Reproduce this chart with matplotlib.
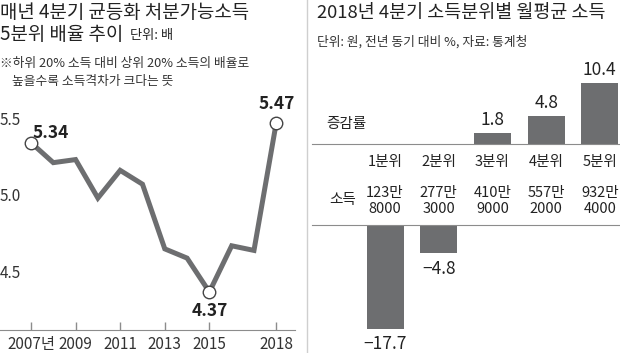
import matplotlib
matplotlib.use('Agg')
import matplotlib.pyplot as plt
from matplotlib.lines import Line2D
from matplotlib.transforms import blended_transform_factory

plt.rcParams['font.family'] = ['Noto Sans CJK KR', 'DejaVu Sans']
plt.rcParams['axes.unicode_minus'] = True
NUM = ['Liberation Sans Narrow', 'Noto Sans CJK KR']

# 왼쪽: 4분기 5분위 배율
years = [2007, 2008, 2009, 2010, 2011, 2012, 2013, 2014, 2015, 2016, 2017, 2018]
ratio = [5.34, 5.21, 5.23, 4.98, 5.16, 5.07, 4.65, 4.59, 4.37, 4.67, 4.64, 5.47]
mark_years = [2007, 2015, 2018]
tick_years = [2007, 2009, 2011, 2013, 2015, 2018]
tick_labels = ['2007년', '2009', '2011', '2013', '2015', '2018']
y_ticks = [4.5, 5.0, 5.5]

# 오른쪽: 소득분위별 증감률
quintiles = ['1분위', '2분위', '3분위', '4분위', '5분위']
change = [-17.7, -4.8, 1.8, 4.8, 10.4]
income = [1238000, 2773000, 4109000, 5572000, 9324000]

GRAY = '#6d6e70'
TXT = '#222222'
LINEC = '#8c8c8c'

fig = plt.figure(figsize=(6.2, 3.53), dpi=100)
W, H = 620, 353

def fx(px):
    return px / W

def fy(py):
    return 1 - py / H

# ---- 왼쪽 패널 ----
fig.text(0, fy(13), '매년 4분기 균등화 처분가능소득', fontsize=13.6, color=TXT, va='center')
fig.text(0, fy(35), '5분위 배율 추이', fontsize=13.6, color=TXT, va='center')
fig.text(fx(130), fy(36), '단위: 배', fontsize=9.5, color=TXT, va='center')
fig.text(0, fy(64), '※하위 20% 소득 대비 상위 20% 소득의 배율로', fontsize=9.2, color='#333333', va='center')
fig.text(fx(12), fy(82), '높을수록 소득격차가 크다는 뜻', fontsize=9.2, color='#333333', va='center')

ax = fig.add_axes([0, fy(330), fx(295), (330 - 110) / H])
ax.plot(years, ratio, color=GRAY, linewidth=3.6, solid_joinstyle='miter', zorder=2)
mx = [y for y in years if y in mark_years]
my = [r for y, r in zip(years, ratio) if y in mark_years]
ax.plot(mx, my, 'o', markersize=9, markerfacecolor='white', markeredgecolor='#444444',
        markeredgewidth=1, zorder=3)
offsets = {2007: (14, 7, 'center'), 2015: (0, -7, 'top'), 2018: (0, 7, 'bottom')}
for y, r in zip(mx, my):
    dx, dy, va = offsets[y]
    ax.annotate(f'{r:.2f}', xy=(y, r), xytext=(dx, dy), textcoords='offset points',
                ha='center', va=va, fontsize=12.5, fontweight='bold', color=TXT, family=NUM)

ax.set_xlim(2005.61, 2018.84)
ax.set_ylim(4.123, 5.552)
ax.set_xticks(tick_years)
ax.set_xticklabels(tick_labels, fontsize=11, color='#333333', family=NUM)
ax.tick_params(axis='x', direction='in', length=6, width=1, color=LINEC, pad=4)
ax.set_yticks(y_ticks)
ax.set_yticklabels([f'{v:.1f}' for v in y_ticks], fontsize=11, color='#333333', family=NUM)
for lab in ax.get_yticklabels():
    lab.set_ha('left')
ax.tick_params(axis='y', length=0, pad=0)
for s in ['top', 'right', 'left']:
    ax.spines[s].set_visible(False)
ax.spines['bottom'].set_color(LINEC)
ax.patch.set_alpha(0)

# 구분선
fig.add_artist(Line2D([fx(307), fx(307)], [0, 1], color='#cfcfcf', linewidth=1))

# ---- 오른쪽 패널 ----
fig.text(fx(317), fy(13), '2018년 4분기 소득분위별 월평균 소득', fontsize=13.3, color=TXT, va='center')
fig.text(fx(317), fy(42), '단위: 원, 전년 동기 대비 %, 자료: 통계청', fontsize=9.2, color='#333333', va='center')

xs = list(range(len(quintiles)))
pos = [max(v, 0) for v in change]
neg = [min(v, 0) for v in change]

ax_top = fig.add_axes([fx(312), fy(144), fx(308), 84 / H])
ax_top.bar(xs, pos, width=0.69, color=GRAY)
for x, v in zip(xs, change):
    if v > 0:
        ax_top.annotate(f'{v:.1f}', xy=(x, v), xytext=(0, 3), textcoords='offset points',
                        ha='center', va='bottom', fontsize=12.5, color=TXT, family=NUM)
ax_top.set_xlim(-1.36, 4.376)
ax_top.set_ylim(0, 14.36)

ax_bot = fig.add_axes([fx(312), 0, fx(308), 128 / H])
ax_bot.bar(xs, neg, width=0.69, color=GRAY)
for x, v in zip(xs, change):
    if v < 0:
        ax_bot.annotate(f'{v:.1f}'.replace('-', '\u2212'), xy=(x, v), xytext=(0, -5),
                        textcoords='offset points', ha='center', va='top',
                        fontsize=12.5, color=TXT, family=NUM)
ax_bot.set_xlim(-1.36, 4.376)
ax_bot.set_ylim(-21.88, 0)

for a, keep in [(ax_top, 'bottom'), (ax_bot, 'top')]:
    for s in ['top', 'bottom', 'left', 'right']:
        a.spines[s].set_visible(s == keep)
    a.spines[keep].set_color(LINEC)
    a.set_xticks([])
    a.set_yticks([])
    a.patch.set_alpha(0)

fig.text(fx(346), fy(124), '증감률', fontsize=10.5, color=TXT, va='center', ha='center')
fig.text(fx(343), fy(200), '소득', fontsize=10.5, color=TXT, va='center', ha='center')

tr = blended_transform_factory(ax_top.transData, fig.transFigure)
for x, q, inc in zip(xs, quintiles, income):
    ax_top.text(x, fy(162), q, transform=tr, ha='center', va='center',
                fontsize=10.5, color=TXT, family=NUM)
    ax_top.text(x, fy(201), f'{inc // 10000}만\n{inc % 10000:04d}', transform=tr,
                ha='center', va='center', fontsize=10.5, color=TXT, family=NUM,
                linespacing=1.15)

fig.savefig('out.png', dpi=100)
